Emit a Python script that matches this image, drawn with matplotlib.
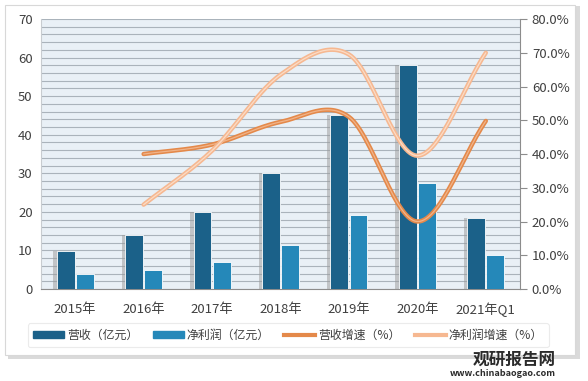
import matplotlib.pyplot as plt
import numpy as np
from matplotlib.patches import Rectangle
from matplotlib.ticker import FuncFormatter

plt.rcParams["font.family"] = ["Noto Sans CJK SC", "DejaVu Sans"]

years = ["2015年", "2016年", "2017年", "2018年", "2019年", "2020年", "2021年Q1"]
revenue = [9.9, 14.0, 19.9, 30.0, 45.1, 58.0, 18.3]
profit = [3.8, 4.9, 6.9, 11.4, 19.3, 27.4, 8.7]
growth_years = years[1:]
revenue_growth = [40.0, 42.8, 49.5, 51.0, 20.0, 49.8]
profit_growth = [25.0, 41.0, 63.5, 69.5, 39.5, 70.0]

DARK = "#1b6189"
LIGHT = "#2588b9"
ORANGE = "#e4894a"
PEACH = "#f6b891"


def smooth(xs, ys, n=30):
    # Catmull-Rom curve, same look as Excel's smoothed line
    xs = np.asarray(xs, float)
    ys = np.asarray(ys, float)
    px = np.concatenate([[2 * xs[0] - xs[1]], xs, [2 * xs[-1] - xs[-2]]])
    py = np.concatenate([[2 * ys[0] - ys[1]], ys, [2 * ys[-1] - ys[-2]]])
    outx, outy = [], []
    t = np.linspace(0, 1, n)
    for i in range(1, len(px) - 2):
        for p, out in ((px, outx), (py, outy)):
            p0, p1, p2, p3 = p[i - 1], p[i], p[i + 1], p[i + 2]
            out.extend(0.5 * (2 * p1 + (-p0 + p2) * t
                              + (2 * p0 - 5 * p1 + 4 * p2 - p3) * t ** 2
                              + (-p0 + 3 * p1 - 3 * p2 + p3) * t ** 3))
    return np.array(outx), np.array(outy)


fig = plt.figure(figsize=(5.88, 3.81), dpi=100)
fig.patch.set_facecolor("white")

# white card with soft shadow
fig.patches.append(Rectangle((0.014, 0.058), 0.972, 0.925, transform=fig.transFigure,
                             facecolor="#dadada", edgecolor="none", zorder=-3))
fig.patches.append(Rectangle((0.0085, 0.068), 0.9695, 0.919, transform=fig.transFigure,
                             facecolor="white", edgecolor="#d8d8d8", lw=0.8, zorder=-2))

ax = fig.add_axes([0.0697, 0.2415, 0.8147, 0.7085])
ax.set_facecolor("#e9f0f6")
x = np.arange(len(years))
w = 0.26

ax.bar(x - 0.19, revenue, w, color="#9a9a9a", alpha=0.5, zorder=1)
ax.bar(x - 0.14, revenue, w, color=DARK, edgecolor="white", lw=0.6, zorder=3)
ax.bar(x + 0.14, profit, w, color=LIGHT, edgecolor="white", lw=0.6, zorder=3)

ax.set_ylim(0, 70)
ax.set_xlim(-0.5, len(years) - 0.5)
ax.set_yticks(range(0, 71, 10))
ax.set_yticks(range(0, 71, 2), minor=True)
ax.yaxis.grid(True, which="both", color="#aab3bb", lw=0.8)
ax.set_axisbelow(True)
ax.set_xticks(x)
ax.set_xticklabels(years)
ax.tick_params(axis="both", length=0, labelsize=9.5, colors="#404040", pad=6)
ax.tick_params(axis="x", pad=10)
ax.tick_params(axis="y", which="minor", length=0)
for s in ("top", "right"):
    ax.spines[s].set_visible(False)
ax.spines["left"].set_color("#c8ccd0")
ax.spines["bottom"].set_color("#8c8c8c")

ax2 = ax.twinx()
gx = np.arange(1, len(years))
for vals, col, inner in ((revenue_growth, ORANGE, "#f0b48a"), (profit_growth, PEACH, "#fbdcc6")):
    sx, sy = smooth(gx, vals)
    ax2.plot(sx, sy, color=col, lw=3.2, solid_capstyle="round", zorder=4)
    ax2.plot(sx, sy, color=inner, lw=0.9, solid_capstyle="round", zorder=5)
ax2.set_ylim(0, 80)
ax2.set_yticks(range(0, 81, 10))
ax2.yaxis.set_major_formatter(FuncFormatter(lambda v, _: f"{v:.1f}%"))
ax2.tick_params(axis="y", length=5, color="#8c8c8c", labelsize=9.5, labelcolor="#404040")
for s in ("top", "left", "bottom"):
    ax2.spines[s].set_visible(False)
ax2.spines["right"].set_color("#8c8c8c")

# legend
handles = [
    plt.Rectangle((0, 0), 1, 1, color=DARK),
    plt.Rectangle((0, 0), 1, 1, color=LIGHT),
    plt.Line2D([], [], color=ORANGE, lw=3),
    plt.Line2D([], [], color=PEACH, lw=3),
]
labels = ["营收（亿元）", "净利润（亿元）", "营收增速（%）", "净利润增速（%）"]
leg = fig.legend(handles, labels, loc="center", bbox_to_anchor=(0.49, 0.12), ncol=4,
                 fontsize=8.6, frameon=True, handlelength=2.6, handleheight=0.5,
                 columnspacing=1.2, handletextpad=0.25, borderpad=0.45)
leg.get_frame().set_edgecolor("#e6e6e6")
leg.get_frame().set_linewidth(0.8)
for t in leg.get_texts():
    t.set_color("#404040")

fig.text(0.945, 0.055, "观研报告网", ha="right", va="center", fontsize=12,
         fontweight="bold", color="#2b2b2b")
fig.text(0.945, 0.02, "www.chinabaogao.com", ha="right", va="center", fontsize=6.5,
         fontweight="bold", color="#2b2b2b")

fig.savefig("out.png", dpi=100, facecolor=fig.get_facecolor())
